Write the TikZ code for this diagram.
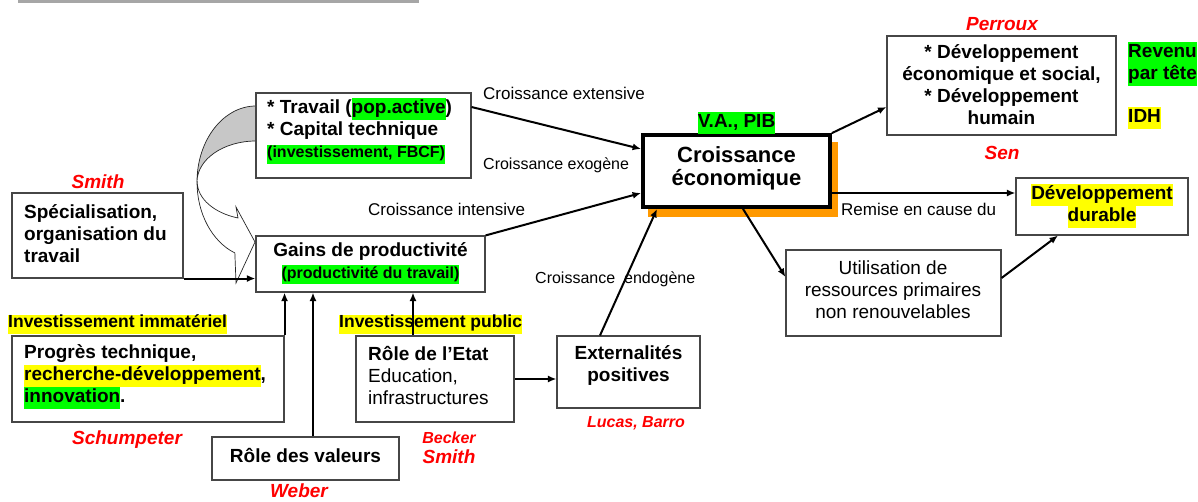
\documentclass[tikz,border=0pt]{standalone}
\usepackage{fontspec}
\setmainfont{Liberation Sans}
\usetikzlibrary{arrows.meta,calc}
\definecolor{hlgreen}{RGB}{0,255,0}
\definecolor{hlyellow}{RGB}{255,255,0}
\definecolor{shadoworange}{RGB}{255,153,0}
\definecolor{namered}{RGB}{255,0,0}
\definecolor{boxline}{RGB}{70,70,70}
\newcommand{\hlg}[1]{{\setlength{\fboxsep}{0pt}\colorbox{hlgreen}{\strut#1}}}
\newcommand{\hly}[1]{{\setlength{\fboxsep}{0pt}\colorbox{hlyellow}{\strut#1}}}
\begin{document}
\begin{tikzpicture}[x=1pt,y=1pt,
  box/.style={draw=boxline, line width=1.1pt, fill=white, inner sep=0pt, rectangle},
  conn/.style={line width=2pt, -{Latex[length=8.5pt,width=7pt]}},
  txt/.style={inner sep=0pt, font=\fontsize{19}{22}\selectfont},
  btxt/.style={inner sep=0pt, font=\fontsize{19}{22}\selectfont\bfseries},
  lbl/.style={inner sep=0pt, anchor=west, font=\fontsize{17}{20}\selectfont},
  slbl/.style={inner sep=0pt, anchor=west, font=\fontsize{16}{19}\selectfont},
  hlbl/.style={inner sep=0pt, anchor=west, font=\fontsize{17.5}{19}\selectfont\bfseries},
  aname/.style={inner sep=0pt, text=namered, font=\fontsize{19}{22}\selectfont\bfseries\itshape},
  sname/.style={inner sep=0pt, text=namered, font=\fontsize{16}{19}\selectfont\bfseries\itshape}]
\useasboundingbox (0,0) rectangle (1198,-502);
\fill[black!35] (18,0) rectangle (419,-3);

% curved block arrow (back and front)
\filldraw[fill=black!22, draw=black!85, line width=0.7pt]
  (256,-106) arc[start angle=90,end angle=180,x radius=59,y radius=76]
  arc[start angle=180,end angle=90,x radius=59,y radius=41] -- cycle;
\filldraw[fill=white, draw=black!85, line width=0.7pt]
  (197,-182) arc[start angle=180,end angle=249,x radius=59,y radius=76]
  -- (236,-283) -- (255,-242) -- (236,-207) -- (238,-218)
  arc[start angle=252,end angle=180,x radius=59,y radius=38] -- cycle;

% orange shadow
\fill[shadoworange] (648,-142) rectangle (838,-217);

% boxes
\node[box, minimum width=215pt, minimum height=85pt] (travail) at (363.5,-135.5) {};
\node[box, minimum width=229pt, minimum height=56pt] (gains) at (370.5,-264) {};
\node[box, draw=black, line width=3.8pt, minimum width=187pt, minimum height=72pt] (croiss) at (736.5,-171) {};
\node[box, minimum width=229pt, minimum height=99pt] (devsoc) at (1001.5,-85.5) {};
\node[box, minimum width=172pt, minimum height=57pt] (durable) at (1102,-206.5) {};
\node[box, minimum width=215pt, minimum height=86pt] (util) at (893.5,-293) {};
\node[box, minimum width=171pt, minimum height=85pt] (spec) at (97.5,-235.5) {};
\node[box, minimum width=272pt, minimum height=86pt] (progres) at (148,-379) {};
\node[box, minimum width=187pt, minimum height=43pt] (valeurs) at (305.5,-458.5) {};
\node[box, minimum width=158pt, minimum height=86pt] (etat) at (435,-379) {};
\node[box, minimum width=143pt, minimum height=72pt] (extern) at (628.5,-372) {};

% box texts
\node[btxt, anchor=west, align=left] (travailT) at (267,-131) {* Travail (\hlg{pop.active})\\* Capital technique\\{\fontsize{16}{19}\selectfont\hlg{(investissement, FBCF)}}};
\node[btxt, align=center] (gainsT) at (370.5,-263) {Gains de productivité\\{\fontsize{16}{19}\selectfont\hlg{(productivité du travail)}}};
\node[inner sep=0pt, font=\fontsize{22}{23}\selectfont\bfseries, align=center] (croissT) at (736.5,-168.5) {Croissance\\économique};
\node[btxt, align=center] (devsocT) at (1001.5,-85) {* Développement\\économique et social,\\* Développement\\humain};
\node[btxt, align=center] (durableT) at (1102,-206.5) {\hly{Développement}\\\hly{durable}};
\node[txt, align=center] (utilT) at (893,-289.5) {Utilisation de\\ressources primaires\\non renouvelables};
\node[btxt, anchor=west, align=left] (specT) at (24,-233.5) {Spécialisation,\\organisation du\\travail};
\node[btxt, anchor=west, align=left] (progresT) at (24,-376.5) {Progrès technique,\\\hly{recherche-développement},\\\hlg{innovation}.};
\node[btxt] (valeursT) at (305.5,-455) {Rôle des valeurs};
\node[txt, anchor=west, align=left] (etatT) at (368,-375.5) {\textbf{Rôle de l’Etat}\\Education,\\infrastructures};
\node[btxt, align=center] (externT) at (628.5,-365.5) {Externalités\\positives};

% free labels
\node[lbl] (lext) at (483,-93) {Croissance extensive};
\node[slbl] (lexo) at (483,-165) {Croissance exogène};
\node[lbl] (lint) at (368,-209) {Croissance intensive};
\node[slbl] (lendo) at (535,-279) {Croissance~~endogène};
\node[lbl] (lremise) at (841,-209) {Remise en cause du};
\node[btxt] (lpib) at (736.5,-123.5) {\hlg{V.A., PIB}};
\node[btxt, anchor=north west, align=left] (lrev) at (1128,-42) {\hlg{Revenu}\\\hlg{par tête}};
\node[btxt, anchor=west] (lidh) at (1128,-118.5) {\hly{IDH}};
\node[hlbl] (limmat) at (8,-324) {\hly{Investissement immatériel}};
\node[hlbl] (lpub) at (339,-324) {\hly{Investissement public}};

% authors
\node[aname] (nperroux) at (1002,-24) {Perroux};
\node[aname] (nsen) at (1002,-153) {Sen};
\node[aname] (nsmith) at (98,-182) {Smith};
\node[aname] (nschump) at (127,-440) {Schumpeter};
\node[aname] (nweber) at (299,-491) {Weber};
\node[sname] (nbecker) at (449,-438) {Becker};
\node[aname] (nsmithb) at (449,-457) {Smith};
\node[sname] (nlucas) at (636,-423) {Lucas, Barro};

% connectors
\draw[conn] ([yshift=28.5pt]travail.east) -- ([yshift=22pt]croiss.west);
\draw[conn] (gains.north east) -- ([yshift=-22pt]croiss.west);
\draw[conn] (spec.south east) -- (spec.south east -| gains.west);
\draw[conn] (progres.north east) -- (progres.north east |- gains.south);
\draw[conn] ([xshift=7.5pt]valeurs.north) -- ([xshift=7.5pt]valeurs.north |- gains.south);
\draw[conn] ([xshift=-22pt]etat.north) -- ([xshift=-22pt]etat.north |- gains.south);
\draw[conn] (etat.east) -- (etat.east -| extern.west);
\draw[conn] ([xshift=-28.5pt]extern.north) -- ([xshift=-79.5pt]croiss.south);
\draw[conn] (croiss.north east) -- ([yshift=-21.5pt]devsoc.west);
\draw[conn] ([yshift=-22pt]croiss.east) -- ([yshift=-22pt]croiss.east -| durable.west);
\draw[conn] ([xshift=6.5pt]croiss.south) -- ([yshift=16pt]util.west);
\draw[conn] ([yshift=15pt]util.east) -- ([xshift=-44pt]durable.south);
\end{tikzpicture}
\end{document}
